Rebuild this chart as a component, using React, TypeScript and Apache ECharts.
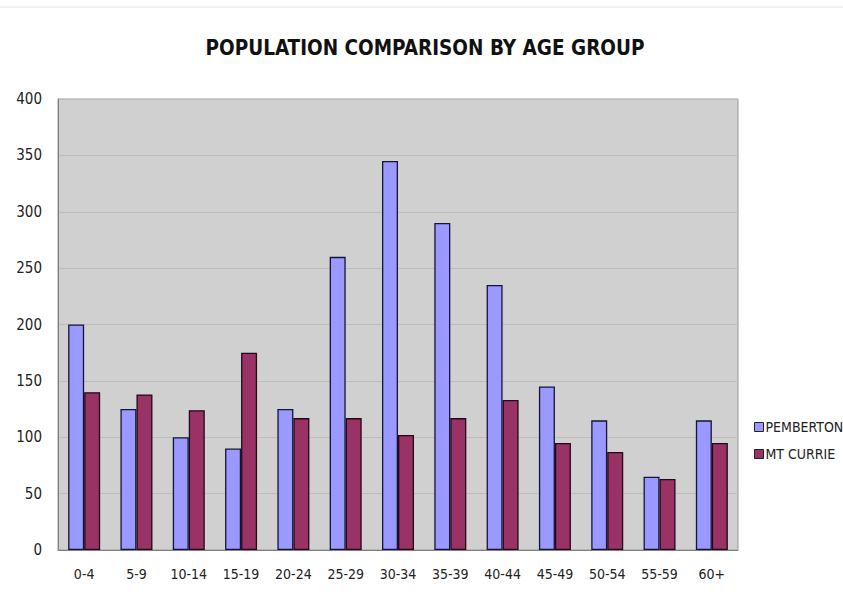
import React, { useEffect, useRef } from "react";
import * as echarts from "echarts";

const categories = ["0-4", "5-9", "10-14", "15-19", "20-24", "25-29", "30-34", "35-39", "40-44", "45-49", "50-54", "55-59", "60+"];
const pemberton = [200, 125, 100, 90, 125, 260, 345, 290, 235, 145, 115, 65, 115];
const mtCurrie = [140, 138, 124, 175, 117, 117, 102, 117, 133, 95, 87, 63, 95];
const yTicks = [0, 50, 100, 150, 200, 250, 300, 350, 400];

const FONT = "DejaVu Sans Condensed";

export default function App() {
  const ref = useRef<HTMLDivElement>(null);
  useEffect(() => {
    if (!ref.current) return;
    const chart = echarts.init(ref.current, null, { renderer: "svg" });
    chart.setOption({
      animation: false,
      backgroundColor: "#ffffff",
      title: {
        text: "POPULATION COMPARISON BY AGE GROUP",
        left: 420,
        textAlign: "center",
        top: 32,
        textStyle: { fontFamily: FONT, fontWeight: "bold", fontSize: 20.5, color: "#111" },
      },
      graphic: [
        { type: "line", shape: { x1: 0, y1: 7, x2: 843, y2: 7 }, style: { stroke: "#e4e4e4", lineWidth: 1 } },
      ],
      legend: {
        orient: "vertical",
        left: 749,
        top: 415,
        itemWidth: 9,
        itemHeight: 9,
        itemGap: 13,
        icon: "rect",
        textStyle: { fontFamily: FONT, fontSize: 14, color: "#222", padding: [0, 0, 0, -3] },
        data: [
          { name: "PEMBERTON", itemStyle: { color: "#9999ff", borderColor: "#222", borderWidth: 1 } },
          { name: "MT CURRIE", itemStyle: { color: "#993366", borderColor: "#222", borderWidth: 1 } },
        ],
      },
      grid: { left: 58, right: 105, top: 99, bottom: 42, show: true, backgroundColor: "#d0d0d0", borderColor: "#999999", borderWidth: 1 },
      xAxis: {
        type: "category",
        data: categories,
        axisLine: { lineStyle: { color: "#808080" } },
        axisTick: { show: false },
        axisLabel: { fontFamily: FONT, fontSize: 14, color: "#222", margin: 17 },
      },
      yAxis: {
        type: "value",
        min: yTicks[0],
        max: yTicks[yTicks.length - 1],
        interval: 50,
        axisLine: { show: true, lineStyle: { color: "#808080" } },
        axisTick: { show: false },
        axisLabel: { fontFamily: FONT, fontSize: 15, color: "#222", margin: 16 },
        splitLine: { lineStyle: { color: "#bcbcbc", width: 1 } },
      },
      series: [
        {
          name: "PEMBERTON",
          type: "bar",
          data: pemberton,
          barWidth: 16,
          barGap: "0%",
          itemStyle: { color: "#9999ff", borderColor: "#14143a", borderWidth: 1.3 },
        },
        {
          name: "MT CURRIE",
          type: "bar",
          data: mtCurrie,
          barWidth: 16,
          barGap: "0%",
          itemStyle: { color: "#993366", borderColor: "#220818", borderWidth: 1.3 },
        },
      ],
    });
    return () => chart.dispose();
  }, []);
  return <div ref={ref} style={{ position: "fixed", left: 0, top: 0, width: 843, height: 592 }} />;
}
